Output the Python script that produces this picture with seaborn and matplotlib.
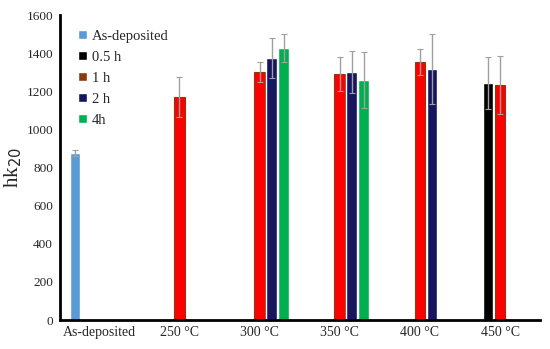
import numpy as np
import pandas as pd
import matplotlib
matplotlib.use("Agg")
import matplotlib.pyplot as plt
from matplotlib.patches import Patch
import seaborn as sns

# Data
categories = ["As-deposited", "250 \u00b0C", "300 \u00b0C", "350 \u00b0C", "400 \u00b0C", "450 \u00b0C"]
series = ["As-deposited", "0.5 h", "1 h", "2 h", "4h"]

rows_cat = ["As-deposited", "250 \u00b0C", "300 \u00b0C", "300 \u00b0C", "300 \u00b0C",
            "350 \u00b0C", "350 \u00b0C", "350 \u00b0C", "400 \u00b0C", "400 \u00b0C",
            "450 \u00b0C", "450 \u00b0C"]
rows_series = ["As-deposited", "1 h", "1 h", "2 h", "4h",
               "1 h", "2 h", "4h", "1 h", "2 h",
               "0.5 h", "1 h"]
hk20 = [876, 1170, 1300, 1375, 1425, 1290, 1300, 1260, 1353, 1317, 1243, 1233]
hk20_err = [15, 105, 52, 105, 73, 90, 110, 147, 69, 183, 137, 152]

df = pd.DataFrame({"cat": rows_cat, "series": rows_series, "hk": hk20, "err": hk20_err})

bar_colors = {"As-deposited": "#5B9BD5", "0.5 h": "#000000", "1 h": "#FF0000",
              "2 h": "#16165E", "4h": "#00B050"}
legend_colors = {"As-deposited": "#5B9BD5", "0.5 h": "#000000", "1 h": "#8B3A0F",
                 "2 h": "#16165E", "4h": "#00B050"}

sns.set_style("white")
plt.rcParams["font.family"] = ["Liberation Serif", "DejaVu Serif"]

fig = plt.figure(figsize=(5.5, 3.49), dpi=100)
ax = fig.add_axes([0.109, 0.083, 0.873, 0.874])

sns.barplot(data=df, x="cat", y="hk", hue="series", order=categories, hue_order=series,
            palette=bar_colors, errorbar=None, width=0.75, gap=0.12, ax=ax,
            legend=False, saturation=1)

# 1 h bars have a thin brown edge like the original
for s, cont in zip([s for s in series if s in df["series"].values], ax.containers):
    sub = df[df["series"] == s].copy()
    sub["order"] = sub["cat"].map(categories.index)
    sub = sub.sort_values("order")
    for bar, e in zip(cont, sub["err"]):
        if s == "1 h":
            bar.set_edgecolor("#8B3A0F")
            bar.set_linewidth(0.8)
        xc = bar.get_x() + bar.get_width() / 2
        ax.errorbar(xc, bar.get_height(), yerr=e, fmt="none", ecolor="#A0A0A0",
                    elinewidth=1, capsize=2, capthick=0.8, zorder=3)

ax.set_ylim(0, 1600)
ax.set_yticks(np.arange(0, 1601, 200))
ax.set_xlim(-0.49, 5.5)
ax.set_xlabel("")
ax.set_ylabel("hk$_{20}$", fontsize=15, labelpad=2)
ax.tick_params(axis="x", length=0, labelsize=10, pad=4)
ax.tick_params(axis="y", length=0, labelsize=9.5, pad=5)

for side in ["top", "right"]:
    ax.spines[side].set_visible(False)
for side in ["left", "bottom"]:
    ax.spines[side].set_color("black")
    ax.spines[side].set_linewidth(2)

handles = [Patch(facecolor=legend_colors[s], label=s) for s in series]
ax.legend(handles=handles, loc="upper left", bbox_to_anchor=(0.02, 0.98), frameon=False,
          fontsize=10.5, handlelength=0.6, handleheight=0.6, handletextpad=0.35,
          labelspacing=0.55, borderaxespad=0.2)

fig.savefig("out.png", dpi=100)
